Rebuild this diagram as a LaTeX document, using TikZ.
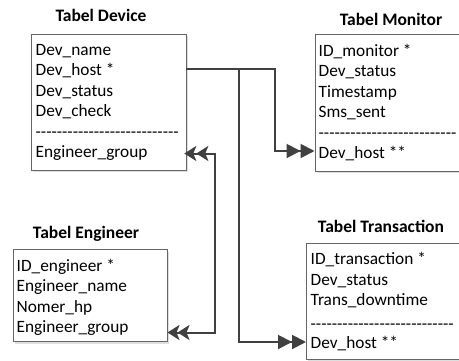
\documentclass[tikz,border=0pt]{standalone}
\usepackage{fontspec}
\setmainfont{Carlito}[Ligatures=TeXOff]
\usetikzlibrary{arrows.meta,shadows}

\begin{document}
\begin{tikzpicture}[x=1pt,y=-1pt,
  tablebox/.style={draw=black!60, line width=0.8pt, fill=white, inner sep=0pt,
    anchor=north west,
    drop shadow={shadow xshift=2pt, shadow yshift=-2pt, fill=black!13, opacity=1}},
  hdr/.style={font=\fontsize{17.5}{20}\selectfont\bfseries, inner sep=0pt, anchor=base},
  fld/.style={font=\fontsize{17.3}{20}\selectfont, inner sep=0pt, anchor=base west},
  rel/.style={draw=black!75, line width=2pt},
  tomany/.style={-{Triangle[length=14pt,width=14pt,sep=0pt]Triangle[length=14pt,width=14pt]}},
  bothgroup/.style={{Stealth[length=12pt,width=15pt,inset=3pt,sep=-2pt]Stealth[length=12pt,width=15pt,inset=3pt]}-{Stealth[length=12pt,width=15pt,inset=3pt,sep=-2pt]Stealth[length=12pt,width=15pt,inset=3pt]}}
]
\useasboundingbox[fill=white] (0,0) rectangle (459,360);
\clip (0,0) rectangle (459,360);

% table frames
\node[tablebox, minimum width=155pt, minimum height=136pt] (dev) at (30.5,33.5) {};
\node[tablebox, minimum width=150pt, minimum height=137pt] (mon) at (314.5,33.5) {};
\node[tablebox, minimum width=154pt, minimum height=92pt]  (eng) at (12.7,249.3) {};
\node[tablebox, minimum width=156pt, minimum height=116pt] (trn) at (306,243) {};

% table titles
\node[hdr] (devT) at (101,21.5)  {Tabel Device};
\node[hdr] (monT) at (391,25.5)  {Tabel Monitor};
\node[hdr] (engT) at (86,238.5)  {Tabel Engineer};
\node[hdr] (trnT) at (381,232.5) {Tabel Transaction};

% Device fields
\node[fld] (dev1) at (35.5,55)    {Dev\_name};
\node[fld] (dev2) at (35.5,75.5)  {Dev\_host *};
\node[fld] (dev3) at (35.5,96)    {Dev\_status};
\node[fld] (dev4) at (35.5,116.5) {Dev\_check};
\node[fld] (dev5) at (35.5,137.5) {---------------------------};
\node[fld] (dev6) at (35.5,157.5) {Engineer\_group};

% Monitor fields
\node[fld] (mon1) at (318.5,56)    {ID\_monitor *};
\node[fld] (mon2) at (318.5,76.5)  {Dev\_status};
\node[fld] (mon3) at (318.5,97)    {Timestamp};
\node[fld] (mon4) at (318.5,117.5) {Sms\_sent};
\node[fld] (mon5) at (318.5,138)   {--------------------------};
\node[fld] (mon6) at (318.5,158)   {Dev\_host **};

% Engineer fields
\node[fld] (eng1) at (16.5,271)   {ID\_engineer *};
\node[fld] (eng2) at (16.5,291.5) {Engineer\_name};
\node[fld] (eng3) at (16.5,312)   {Nomer\_hp};
\node[fld] (eng4) at (16.5,332)   {Engineer\_group};

% Transaction fields
\node[fld] (trn1) at (310.5,264.5) {ID\_transaction *};
\node[fld] (trn2) at (310.5,285)   {Dev\_status};
\node[fld] (trn3) at (310.5,305.5) {Trans\_downtime};
\node[fld] (trn4) at (310.5,329)   {---------------------------};
\node[fld] (trn5) at (310.5,348)   {Dev\_host **};

% relations
\coordinate (split) at (239,69);
\draw[rel,tomany] (dev.east |- 0,69) -| (275,151) -- (mon.west |- 0,151);
\draw[rel,tomany] (split) |- (trn.west |- 0,342);
\draw[rel,bothgroup] (dev.east |- 0,153.5) -- (215,153.5) -- (215,332.5) -- (eng.east |- 0,332.5);
\end{tikzpicture}
\end{document}
